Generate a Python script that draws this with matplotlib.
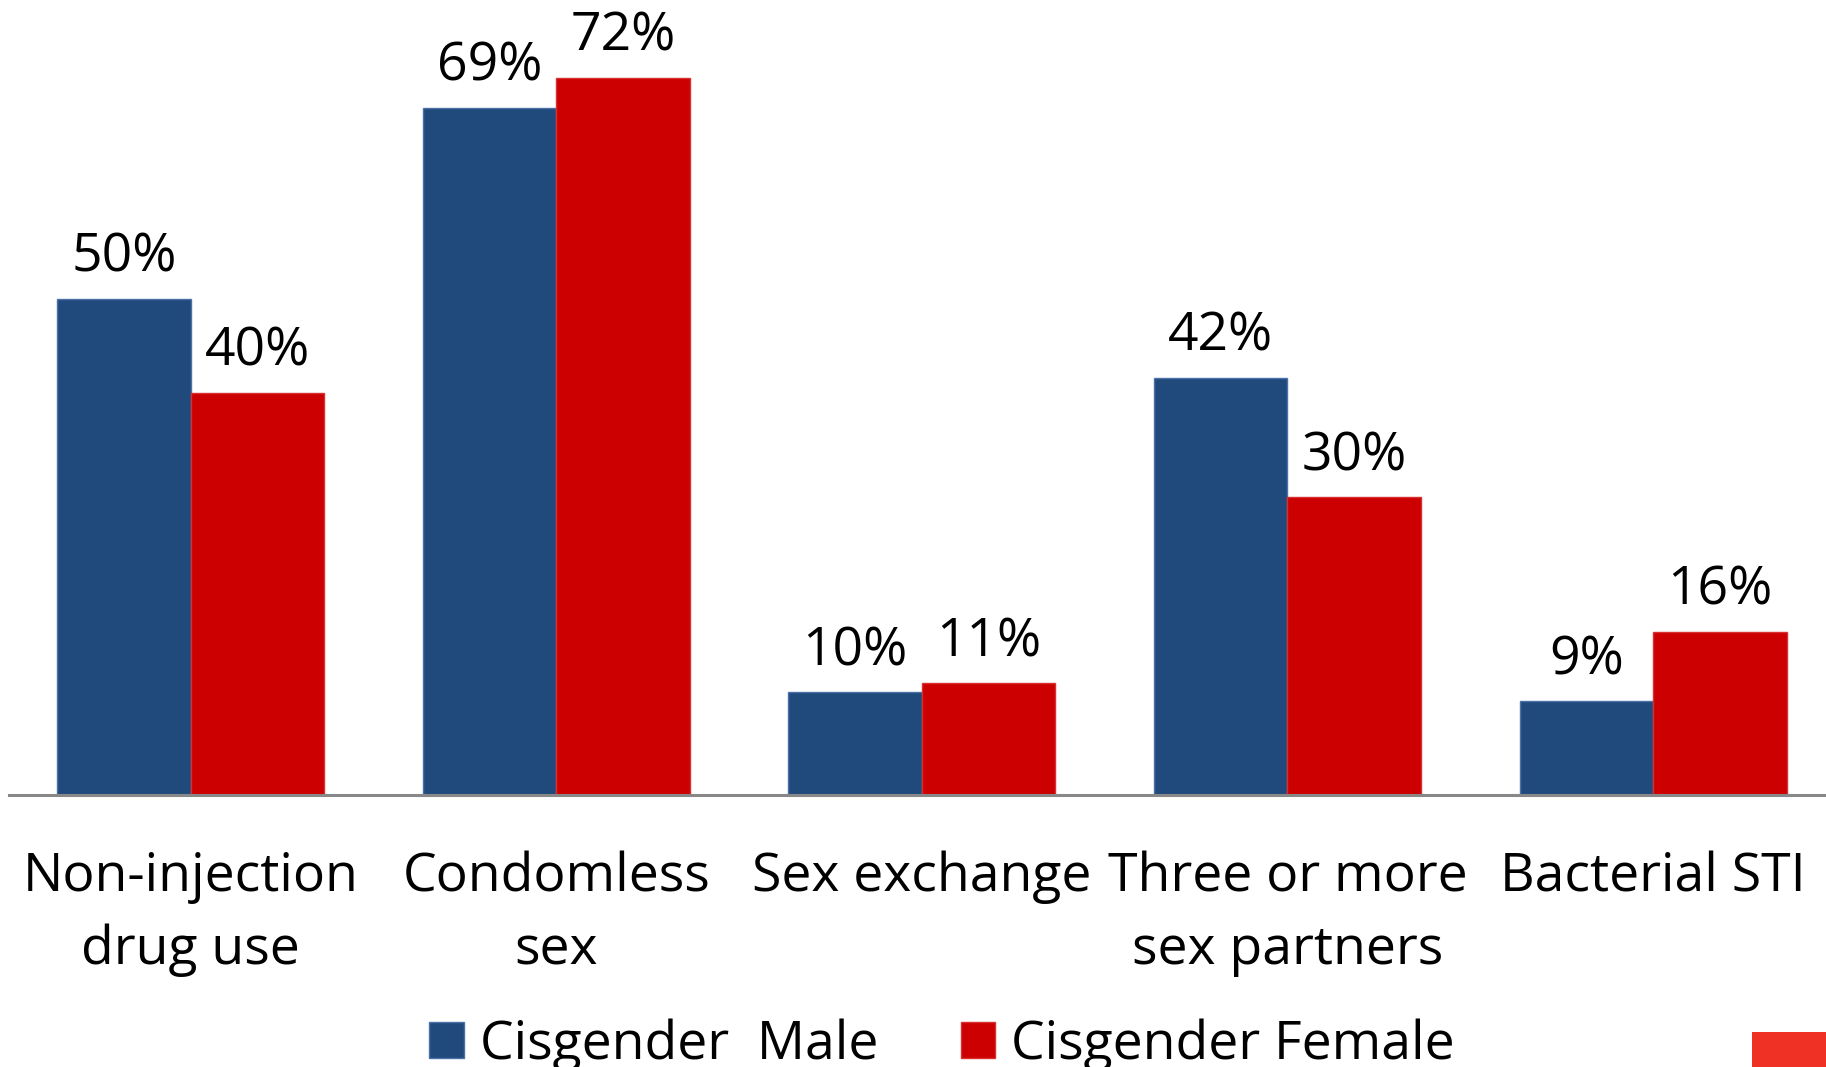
import matplotlib
matplotlib.use("Agg")
import matplotlib.pyplot as plt
from matplotlib.patches import Rectangle, Patch
import numpy as np

plt.rcParams["font.family"] = ["Open Sans", "DejaVu Sans"]

categories = ["Non-injection\ndrug use", "Condomless\nsex", "Sex exchange",
              "Three or more\nsex partners", "Bacterial STI"]
male = [49.8, 69.0, 10.3, 41.9, 9.4]
female = [40.4, 72.0, 11.2, 29.9, 16.4]
series_names = ["Cisgender  Male", "Cisgender Female"]

BLUE = "#214a7c"
RED = "#cc0000"
FS = 38.5

W, H = 1826, 1067
fig = plt.figure(figsize=(W / 100, H / 100), dpi=100)
ax = fig.add_axes([9 / W, (H - 795) / H, 1 - 9 / W, 795 / H])

x = np.arange(len(categories))
bw = 0.365
b1 = ax.bar(x - bw / 2, male, bw, color=BLUE, edgecolor="#4a72a8", linewidth=1)
b2 = ax.bar(x + bw / 2, female, bw, color=RED, edgecolor="#d83030", linewidth=1)

for bars, vals in ((b1, male), (b2, female)):
    for r, v in zip(bars, vals):
        ax.annotate(f"{round(v)}%", (r.get_x() + r.get_width() / 2, v),
                    xytext=(0, 10), textcoords="offset points",
                    ha="center", va="bottom", fontsize=FS)

ax.set_xlim(-0.497, 4.473)
ax.set_ylim(0, 79.8)
for s in ("top", "right", "left"):
    ax.spines[s].set_visible(False)
ax.spines["bottom"].set_color("#888888")
ax.spines["bottom"].set_linewidth(2.2)
ax.set_yticks([])
ax.set_xticks(x)
ax.set_xticklabels(categories, fontsize=FS, linespacing=1.49)
ax.tick_params(axis="x", length=0, pad=40)

handles = [Patch(facecolor=BLUE, edgecolor="#4a72a8"),
           Patch(facecolor=RED, edgecolor="#d83030")]
fig.legend(handles, series_names, loc="center", ncol=2, frameon=False,
           bbox_to_anchor=(942 / W, 1 - 1045 / H), fontsize=FS,
           handlelength=0.64, handleheight=0.64, handletextpad=0.3,
           columnspacing=1.55)

# corner decoration
fig.patches.append(Rectangle((1752 / W, 0), 74 / W, 35 / H, transform=fig.transFigure,
                             facecolor="#ee3124", edgecolor="none"))

fig.savefig("out.png", dpi=100)
